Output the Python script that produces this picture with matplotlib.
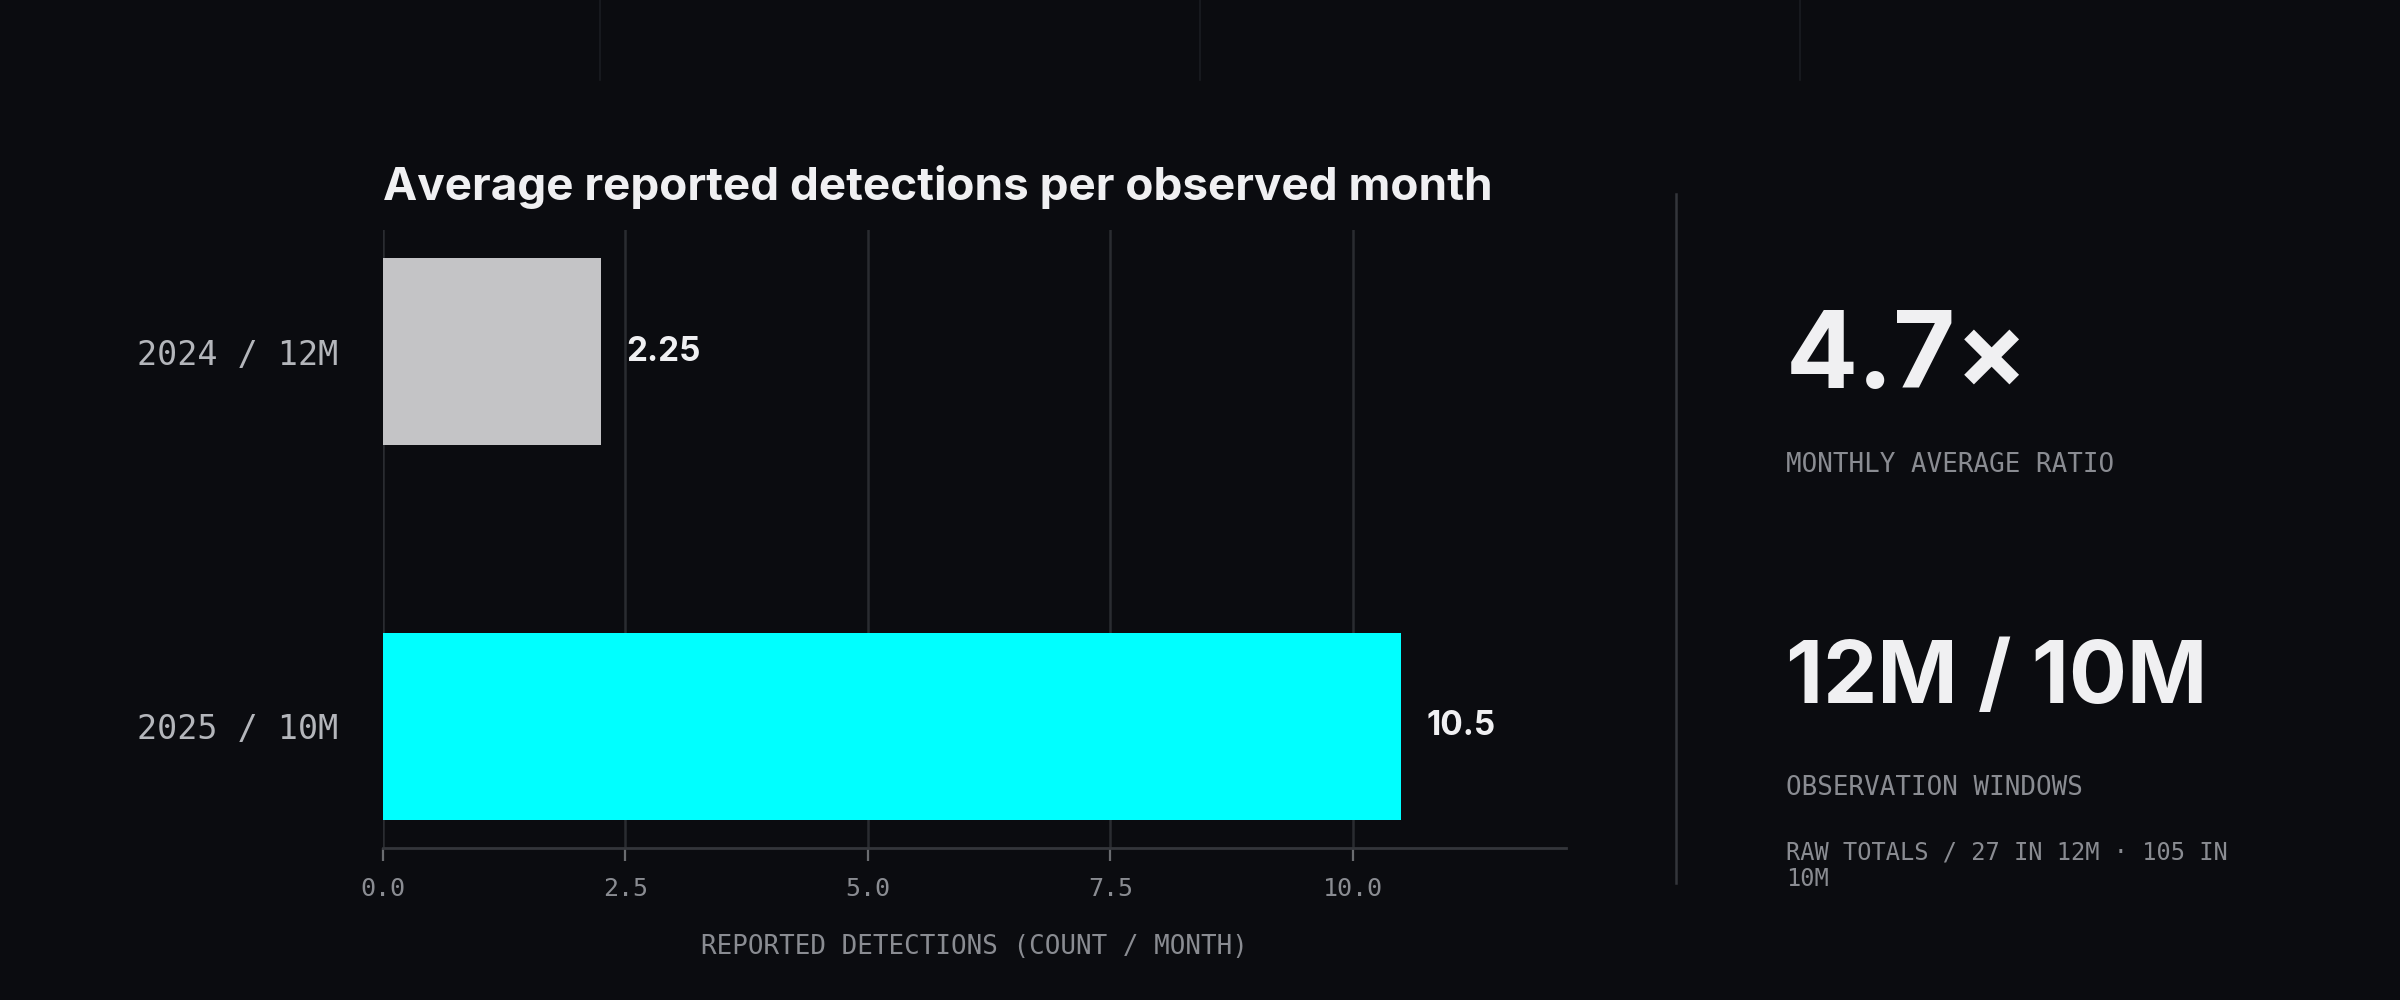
import matplotlib
matplotlib.use("Agg")
import matplotlib.pyplot as plt
from matplotlib.lines import Line2D

# Data
categories = ["2024 / 12M", "2025 / 10M"]
values = [2.25, 10.5]
value_labels = ["2.25", "10.5"]
xticks = [0.0, 2.5, 5.0, 7.5, 10.0]

BG = '#0b0c10'
C_BARS = ['#c4c4c6', '#00ffff']
C_GRID = '#2a2c31'
C_SPINE = '#34363b'
C_TEXT = '#f0f0f2'
C_MUTED = '#8a8c92'
C_CAT = '#b4b6bb'
SANS = ['Inter', 'DejaVu Sans']
MONO = ['DejaVu Sans Mono']

fig = plt.figure(figsize=(12, 5), dpi=200, facecolor=BG)
ax = fig.add_axes([383/2400, 152/1000, (1566-383)/2400, (848-230)/1000])
ax.set_facecolor(BG)

ax.barh(range(len(values)), values, height=0.5, color=C_BARS, zorder=3)
for i, (v, lab) in enumerate(zip(values, value_labels)):
    ax.annotate(lab, (v, i), xytext=(9, 0), textcoords='offset points',
                va='center', ha='left', color=C_TEXT, fontsize=12,
                fontweight='bold', family=SANS, zorder=4)

ax.set_xlim(0, 12.2)
ax.set_ylim(1.326, -0.326)
ax.set_xticks(xticks)
ax.set_xticklabels([f'{x:.1f}' for x in xticks], family=MONO, fontsize=9,
                   color=C_MUTED)
ax.set_yticks(range(len(categories)))
ax.set_yticklabels(categories, family=MONO, fontsize=12, color=C_CAT)
ax.tick_params(axis='y', length=0, pad=16)
ax.tick_params(axis='x', length=4.5, width=0.8, color='#6a6c70', pad=6)
ax.grid(axis='x', color=C_GRID, lw=0.9, zorder=0)
for s in ['top', 'right', 'left']:
    ax.spines[s].set_visible(False)
ax.spines['bottom'].set_color(C_SPINE)
ax.spines['bottom'].set_linewidth(1.0)

ax.set_xlabel('REPORTED DETECTIONS (COUNT / MONTH)', family=MONO, fontsize=9.3,
              color=C_MUTED, labelpad=12)
ax.set_title('Average reported detections per observed month', loc='left',
             pad=10.8, fontsize=16.5, fontweight='bold', color=C_TEXT, family=SANS)

# decorative lines
for x in [600, 1200, 1800]:
    fig.add_artist(Line2D([x/2400, x/2400], [1, 1 - 80/1000],
                          color='#1a1c21', lw=0.6))
fig.add_artist(Line2D([1676/2400, 1676/2400], [1 - 194/1000, 1 - 883/1000],
                      color=C_SPINE, lw=0.9))

# right panel
RX = 1786/2400
fig.text(RX, 1 - 360/1000, '4.7×', fontsize=38.5, fontweight='bold',
         color=C_TEXT, family=SANS, va='center', ha='left')
fig.text(RX, 1 - 465/1000, 'MONTHLY AVERAGE RATIO', fontsize=9.3,
         color=C_MUTED, family=MONO, va='center', ha='left')
fig.text(RX, 1 - 680/1000, '12M / 10M', fontsize=31, fontweight='bold',
         color=C_TEXT, family=SANS, va='center', ha='left')
fig.text(RX, 1 - 788/1000, 'OBSERVATION WINDOWS', fontsize=9.3,
         color=C_MUTED, family=MONO, va='center', ha='left')
fig.text(RX, 1 - 841/1000, 'RAW TOTALS / 27 IN 12M · 105 IN\n10M', fontsize=8.5,
         color=C_MUTED, family=MONO, va='top', ha='left', linespacing=1.1)

fig.savefig('out.png', dpi=200, facecolor=BG)
